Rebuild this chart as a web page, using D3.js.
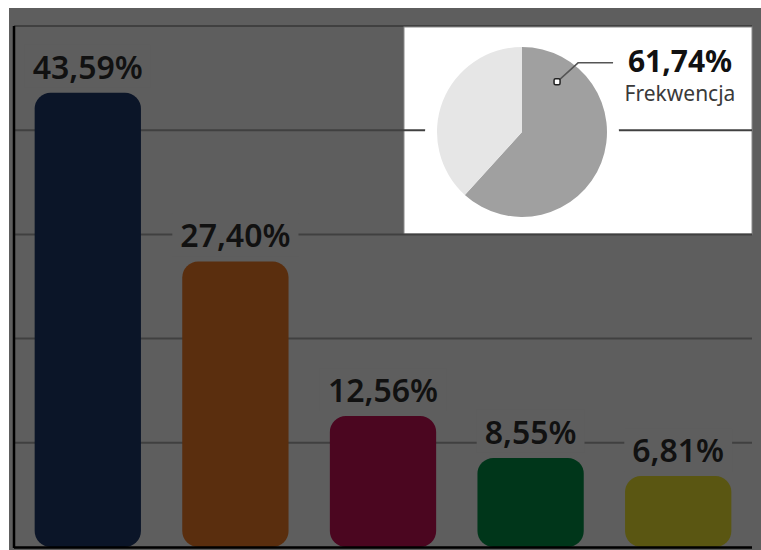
<!DOCTYPE html>
<html>
<head>
<meta charset="utf-8">
<script src="https://cdn.jsdelivr.net/npm/d3@7"></script>
<style>
  body { margin: 0; background: #fff; }
  svg { display: block; }
</style>
</head>
<body>
<div id="chart"></div>
<script>
(function () {

    // dane
    const categories = ['A', 'B', 'C', 'D', 'E'];
    const values = [43.59, 27.40, 12.56, 8.55, 6.81];
    const labels = ['43,59%', '27,40%', '12,56%', '8,55%', '6,81%'];
    const barColors = ['#0b1528', '#5a2e0e', '#4b0620', '#00361a', '#5a5612'];
    const gridTicks = [10, 20, 30, 40];

    const turnout = [61.74, 38.26];
    const turnoutLabel = '61,74%';
    const turnoutName = 'Frekwencja';
    const pieColors = ['#a0a0a0', '#e6e6e6'];

    const width = 761;
    const height = 550;
    const bg = '#5e5e5e';

    const svg = d3.select('#chart')
        .append('svg')
        .attr('width', width)
        .attr('height', height);

    svg.append('rect')
        .attr('x', 9).attr('y', 8)
        .attr('width', width - 9).attr('height', height - 8)
        .attr('fill', bg);

    const y = d3.scaleLinear().domain([0, 50]).range([547, 26]);
    const x = d3.scaleBand().domain(categories).range([14, 752]).paddingInner(0.28).paddingOuter(0.14);

    // top frame line
    svg.append('line')
        .attr('x1', 14).attr('x2', 752)
        .attr('y1', y(50)).attr('y2', y(50))
        .attr('stroke', '#404040').attr('stroke-width', 2);

    // pie box
    const box = { x: 404, y: 27, w: 348, h: 207 };
    svg.append('rect')
        .attr('x', box.x).attr('y', box.y)
        .attr('width', box.w).attr('height', box.h)
        .attr('fill', '#fff')
        .attr('stroke', '#8a8a8a').attr('stroke-width', 1);

    // gridlines
    svg.append('g')
        .selectAll('line')
        .data(gridTicks)
        .join('line')
        .attr('x1', 14).attr('x2', 752)
        .attr('y1', d => y(d)).attr('y2', d => y(d))
        .attr('stroke', '#404040').attr('stroke-width', 2);

    // pie
    const cx = 522, cy = 132, r = 85;
    const pieG = svg.append('g').attr('transform', `translate(${cx},${cy})`);
    pieG.append('circle').attr('r', r + 12).attr('fill', '#fff');

    const pie = d3.pie().sort(null);
    const arcs = pie(turnout);
    const arc = d3.arc().innerRadius(0).outerRadius(r);
    pieG.selectAll('path')
        .data(arcs)
        .join('path')
        .attr('d', arc)
        .attr('fill', (d, i) => pieColors[i]);

    const markAngle = 0.61;
    const mx = Math.sin(markAngle) * r * 0.72;
    const my = -Math.cos(markAngle) * r * 0.72;
    pieG.append('polyline')
        .attr('points', [[mx, my], [mx + 21, my - 19], [mx + 56, my - 19]].map(p => p.join(',')).join(' '))
        .attr('fill', 'none')
        .attr('stroke', '#555')
        .attr('stroke-width', 1.5);
    pieG.append('rect')
        .attr('x', mx - 3).attr('y', my - 3)
        .attr('width', 6).attr('height', 6)
        .attr('rx', 1.5)
        .attr('fill', '#fff')
        .attr('stroke', '#222')
        .attr('stroke-width', 1.5);

    svg.append('text')
        .attr('x', 680).attr('y', 72)
        .attr('text-anchor', 'middle')
        .attr('font-family', 'Noto Sans, sans-serif')
        .attr('font-weight', 'bold')
        .attr('font-size', 30)
        .attr('fill', '#111')
        .text(turnoutLabel);

    svg.append('text')
        .attr('x', 680).attr('y', 101)
        .attr('text-anchor', 'middle')
        .attr('font-family', 'Noto Sans, sans-serif')
        .attr('font-size', 21)
        .attr('fill', '#3a3a3a')
        .text(turnoutName);

    // bar labels
    const labelG = svg.append('g')
        .selectAll('g')
        .data(categories)
        .join('g')
        .attr('transform', (d, i) => `translate(${x(d) + x.bandwidth() / 2},${y(values[i]) - 14})`);

    labelG.append('text')
        .attr('text-anchor', 'middle')
        .attr('font-family', 'Noto Sans, sans-serif')
        .attr('font-weight', 600)
        .attr('font-size', 32)
        .attr('fill', '#111')
        .text((d, i) => labels[i]);

    labelG.each(function () {
        const t = d3.select(this).select('text');
        const bb = t.node().getBBox();
        d3.select(this).insert('rect', 'text')
            .attr('x', bb.x - 8).attr('y', bb.y)
            .attr('width', bb.width + 16).attr('height', bb.height)
            .attr('fill', bg);
    });

    // bars
    svg.append('g')
        .selectAll('rect')
        .data(categories)
        .join('rect')
        .attr('x', d => x(d))
        .attr('y', (d, i) => y(values[i]))
        .attr('width', x.bandwidth())
        .attr('height', (d, i) => y(0) - y(values[i]))
        .attr('rx', 16)
        .attr('fill', (d, i) => barColors[i]);

    // axes
    svg.append('line')
        .attr('x1', 14).attr('x2', 14)
        .attr('y1', 26).attr('y2', 548)
        .attr('stroke', '#000').attr('stroke-width', 2.5);
    svg.append('line')
        .attr('x1', 14).attr('x2', 752)
        .attr('y1', 547.5).attr('y2', 547.5)
        .attr('stroke', '#000').attr('stroke-width', 2.5);

})();
</script>
</body>
</html>
